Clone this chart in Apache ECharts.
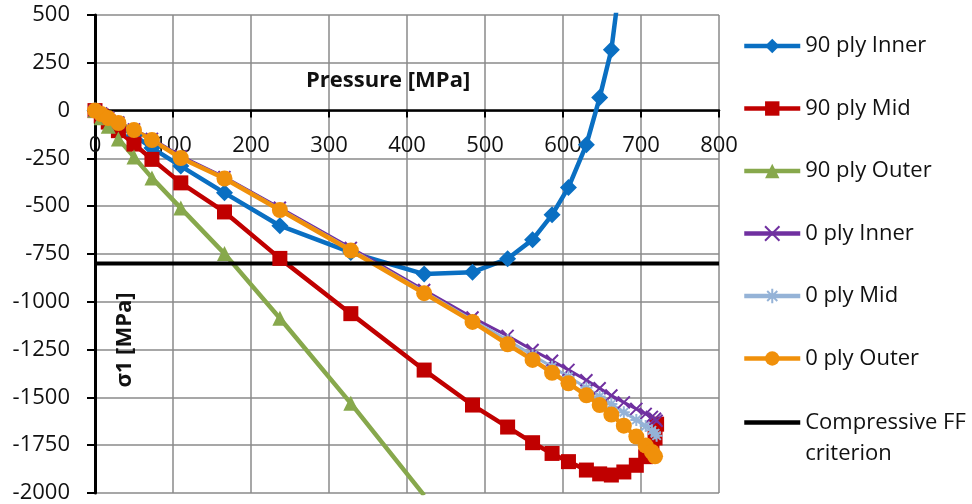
<!DOCTYPE html>
<html>
<head>
<meta charset="utf-8">
<script src="https://cdn.jsdelivr.net/npm/echarts@6/dist/echarts.min.js"></script>
<style>
html,body{margin:0;padding:0;background:#fff;}
#chart{width:972px;height:504px;}
</style>
</head>
<body>
<div id="chart"></div>
<script>
// ---- data ----
const pressure = [0, 8, 17, 30, 50, 73, 110, 166, 237, 328, 422, 484, 529, 561, 586, 607, 630, 647, 662, 678, 694, 706, 714, 718, 720];
const ply90Inner = [0, -20, -45, -80, -130, -195, -290, -430, -602, -742, -855, -845, -775, -675, -545, -402, -178, 68, 318, 830];
const ply90Mid = [0, -28, -60, -105, -175, -255, -378, -530, -773, -1062, -1357, -1540, -1655, -1737, -1793, -1836, -1880, -1900, -1906, -1890, -1855, -1810, -1762, -1712, -1640];
const ply90Outer = [0, -38, -82, -148, -243, -352, -510, -748, -1086, -1531, -2012];
const ply0Inner = [0, -15, -36, -62, -98, -148, -238, -348, -508, -718, -938, -1082, -1178, -1252, -1308, -1356, -1410, -1452, -1490, -1526, -1560, -1586, -1602, -1612, -1622];
const ply0Mid = [0, -17, -38, -64, -100, -152, -244, -352, -515, -726, -948, -1095, -1200, -1280, -1340, -1392, -1450, -1495, -1535, -1578, -1618, -1650, -1672, -1688, -1700];
const ply0Outer = [0, -18, -39, -65, -102, -154, -248, -355, -520, -732, -955, -1105, -1222, -1304, -1371, -1426, -1489, -1540, -1590, -1648, -1705, -1752, -1785, -1808];
const criterionX = [0, 800];
const criterionY = [-800, -800];
const seriesNames = ['90 ply Inner', '90 ply Mid', '90 ply Outer', '0 ply Inner', '0 ply Mid', '0 ply Outer', 'Compressive FF criterion'];
const xTitle = 'Pressure [MPa]';
const yTitle = 'σ1 [MPa]';

function pairs(xs, ys) { return ys.map((v, i) => [xs[i], v]); }

const FONT = 'Open Sans';
const GRID = {left: 95, right: 253, top: 15, bottom: 11};
const H = 504 - GRID.top - GRID.bottom;
const Y_MIN = -2000, Y_MAX = 500;
// shift the x axis from the grid bottom up to the y = 0 line
const zeroOffset = -H * (0 - Y_MIN) / (Y_MAX - Y_MIN);

const chart = echarts.init(document.getElementById('chart'), null, {renderer: 'canvas'});

function lineSeries(name, values, color, symbol, size, width, extra) {
  return Object.assign({
    name: name,
    type: 'line',
    data: pairs(pressure, values),
    symbol: symbol,
    symbolSize: size,
    showSymbol: true,
    clip: true,
    animation: false,
    lineStyle: {color: color, width: width},
    itemStyle: {color: color, opacity: 1},
    emphasis: {disabled: true}
  }, extra || {});
}

const legendCommon = {
  orient: 'vertical', left: 742, padding: 0,
  itemWidth: 56, itemHeight: 18, itemGap: 31.5,
  lineStyle: {width: 4.5},
  textStyle: {color: '#111', fontFamily: FONT, fontSize: 22, lineHeight: 31},
  selectedMode: false
};

const option = {
  animation: false,
  grid: Object.assign({containLabel: false, outerBoundsMode: 'none'}, GRID),
  xAxis: {
    type: 'value', min: 0, max: 800, interval: 100,
    offset: zeroOffset,
    axisLine: {onZero: false, lineStyle: {color: '#000', width: 2.5}},
    axisTick: {show: true, length: 7, lineStyle: {color: '#000', width: 2}},
    axisLabel: {color: '#111', fontFamily: FONT, fontSize: 22, margin: 24},
    splitLine: {show: true, lineStyle: {color: '#8a8a8a', width: 1.5}}
  },
  yAxis: {
    type: 'value', min: Y_MIN, max: Y_MAX, interval: 250,
    axisLine: {show: true, onZero: false, lineStyle: {color: '#000', width: 3}},
    axisTick: {show: true, length: 8, lineStyle: {color: '#000', width: 2}},
    axisLabel: {color: '#111', fontFamily: FONT, fontSize: 22, margin: 25,
      formatter: function (v) { return String(v); }},
    splitLine: {show: true, lineStyle: {color: '#8a8a8a', width: 1.5}}
  },
  legend: [
    Object.assign({}, legendCommon, {top: 30.5, data: seriesNames.slice(0, 6)}),
    Object.assign({}, legendCommon, {
      top: 376,
      data: [{name: seriesNames[6], itemStyle: {opacity: 0}}],
      formatter: function () { return ' \nCompressive FF\ncriterion'; }
    })
  ],
  graphic: [
    {type: 'text', left: 306, top: 70, z: 100,
      style: {text: xTitle, fontFamily: FONT, fontSize: 22, fontWeight: 'bold', fill: '#111'}},
    {type: 'text', x: 125, y: 340, rotation: Math.PI / 2, z: 100,
      style: {text: yTitle, fontFamily: FONT, fontSize: 22, fontWeight: 'bold', fill: '#111',
        align: 'center', verticalAlign: 'middle'}}
  ],
  series: [
    lineSeries(seriesNames[0], ply90Inner, '#0a6fc2', 'diamond', 17, 4.5),
    lineSeries(seriesNames[1], ply90Mid, '#c00000', 'rect', 15, 4.5),
    lineSeries(seriesNames[2], ply90Outer, '#87a84c', 'triangle', 15, 4.5),
    lineSeries(seriesNames[3], ply0Inner, '#7030a0', 'path://M0,0L10,10M10,0L0,10', 12, 3,
      {itemStyle: {color: '#7030a0', borderColor: '#7030a0', borderWidth: 2}}),
    lineSeries(seriesNames[4], ply0Mid, '#95b3d7', 'path://M5,0L5,10M0,5L10,5M1.5,1.5L8.5,8.5M8.5,1.5L1.5,8.5', 12, 3,
      {itemStyle: {color: '#95b3d7', borderColor: '#95b3d7', borderWidth: 2}}),
    lineSeries(seriesNames[5], ply0Outer, '#f0900a', 'circle', 16, 4.5),
    {
      name: seriesNames[6], type: 'line', data: pairs(criterionX, criterionY),
      symbol: 'none', lineStyle: {color: '#000', width: 4}, itemStyle: {color: '#000'},
      animation: false, emphasis: {disabled: true}
    }
  ]
};
chart.setOption(option);
</script>
</body>
</html>
